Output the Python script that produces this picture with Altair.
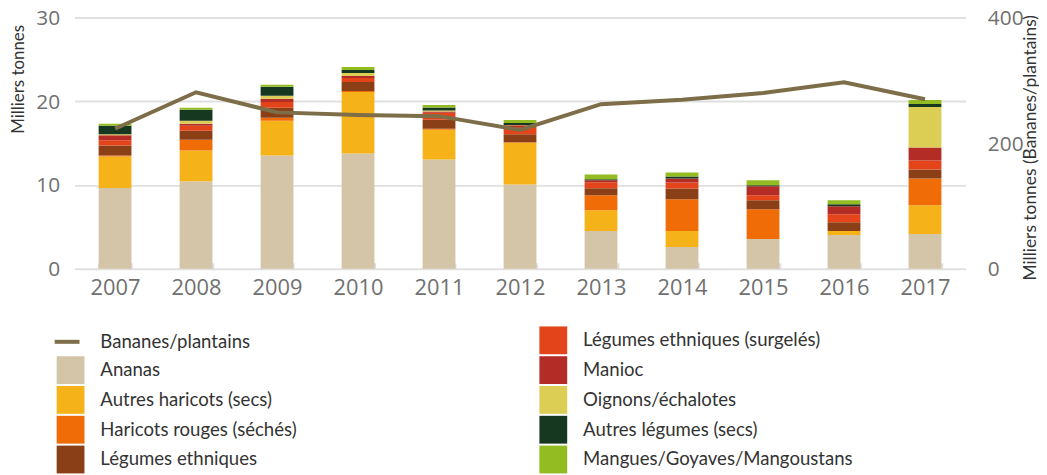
import altair as alt
import pandas as pd

years = ["2007", "2008", "2009", "2010", "2011", "2012", "2013", "2014", "2015", "2016", "2017"]

ananas = [9.64, 10.44, 13.52, 13.76, 13.04, 10.08, 4.51, 2.61, 3.56, 4.03, 4.15]
autres_haricots = [3.76, 3.68, 4.15, 7.35, 3.56, 4.98, 2.49, 1.90, 0.0, 0.47, 3.44]
haricots_rouges = [0.12, 1.30, 0.36, 0.12, 0.12, 0.05, 1.78, 3.79, 3.56, 0.0, 3.20]
legumes_ethniques = [1.19, 1.07, 1.19, 1.07, 1.07, 0.95, 0.83, 1.30, 1.07, 1.07, 1.07]
legumes_surgeles = [0.63, 0.59, 0.68, 0.47, 0.83, 0.87, 0.71, 0.71, 0.59, 0.95, 1.07]
manioc = [0.59, 0.24, 0.39, 0.24, 0.15, 0.20, 0.24, 0.47, 1.07, 0.95, 1.54]
oignons = [0.12, 0.36, 0.36, 0.36, 0.12, 0.05, 0.0, 0.0, 0.0, 0.0, 4.86]
autres_legumes = [1.03, 1.30, 1.07, 0.36, 0.36, 0.24, 0.12, 0.24, 0.12, 0.24, 0.36]
mangues = [0.24, 0.24, 0.24, 0.36, 0.32, 0.36, 0.59, 0.47, 0.59, 0.47, 0.47]

bananes = [223, 281, 249, 245, 243, 221, 262, 269, 280, 297, 270]

categories = [
    "Ananas",
    "Autres haricots (secs)",
    "Haricots rouges (séchés)",
    "Légumes ethniques",
    "Légumes ethniques (surgelés)",
    "Manioc",
    "Oignons/échalotes",
    "Autres légumes (secs)",
    "Mangues/Goyaves/Mangoustans",
]
series = [ananas, autres_haricots, haricots_rouges, legumes_ethniques,
          legumes_surgeles, manioc, oignons, autres_legumes, mangues]
colors = ["#d4c4a8", "#f6b319", "#ef6c07", "#8b3f17", "#e3441a",
          "#b32d26", "#dccd55", "#163820", "#93bb22"]
line_name = "Bananes/plantains"
line_color = "#7d6d48"

rows = []
for ci, (name, vals) in enumerate(zip(categories, series)):
    for yr, v in zip(years, vals):
        rows.append({"annee": yr, "cat": name, "val": v, "ordre": ci})
df = pd.DataFrame(rows)
line_df = pd.DataFrame({"annee": years, "serie": line_name, "val": bananes})

# legend fills column by column; a blank first slot sits under the line legend
legend_domain = [" "] + categories
legend_range = ["transparent"] + colors

x_enc = alt.X(
    "annee:N", title=None,
    scale=alt.Scale(paddingInner=0.595, paddingOuter=0.2975),
    axis=alt.Axis(labelAngle=0, labelFont="Open Sans", labelFontSize=22,
                  labelColor="#707070", domain=False, ticks=True,
                  tickBand="extent", tickSize=6, tickColor="#dddddd",
                  tickWidth=2, offset=-6, labelPadding=9),
)

bars = alt.Chart(df).mark_bar().encode(
    x=x_enc,
    y=alt.Y("val:Q", stack="zero", scale=alt.Scale(domain=[0, 30]),
            axis=alt.Axis(values=[0, 10, 20, 30], title="Milliers tonnes",
                          grid=True, gridColor="#e0e0e0", gridWidth=2,
                          domain=False, ticks=False,
                          labelFont="Open Sans", labelFontSize=21,
                          labelColor="#707070", labelPadding=15, labelOffset=1,
                          titleFont="Lato", titleFontSize=17,
                          titleColor="#333333", titleFontWeight="normal",
                          titleAngle=-90, titleAlign="right",
                          titleBaseline="middle", titleX=-56, titleY=7)),
    fill=alt.Fill("cat:N", scale=alt.Scale(domain=legend_domain, range=legend_range),
                  legend=alt.Legend(title=None, orient="none", legendX=-18, legendY=311,
                                    columns=2, columnPadding=244, rowPadding=2,
                                    symbolType="square", symbolSize=784,
                                    symbolStrokeWidth=0, labelOffset=16,
                                    labelFont="Lato", labelFontSize=18.7,
                                    labelColor="#333333", labelLimit=0,
                                    padding=0)),
    order=alt.Order("ordre:Q", sort="ascending"),
)

line = alt.Chart(line_df).mark_line(strokeWidth=4).encode(
    x=alt.X("annee:N"),
    y=alt.Y("val:Q", scale=alt.Scale(domain=[0, 400]),
            axis=alt.Axis(orient="right", values=[0, 200, 400],
                          title="Milliers tonnes (Bananes/plantains)",
                          grid=False, domain=False, ticks=False,
                          labelFont="Open Sans", labelFontSize=21,
                          labelColor="#707070", labelPadding=22, labelOffset=1,
                          titleFont="Lato", titleFontSize=17.5,
                          titleColor="#333333", titleFontWeight="normal",
                          titleAngle=-90, titleAlign="right",
                          titleBaseline="middle", titleX=65, titleY=-3)),
    stroke=alt.Stroke("serie:N", scale=alt.Scale(domain=[line_name], range=[line_color]),
                      legend=alt.Legend(title=None, orient="none", legendX=-22, legendY=312,
                                        symbolType="stroke", symbolSize=625,
                                        symbolStrokeWidth=4, labelOffset=19,
                                        labelFont="Lato", labelFontSize=18.7,
                                        labelColor="#333333", labelLimit=0,
                                        padding=0)),
)

chart = alt.layer(bars, line).resolve_scale(y="independent", fill="independent").properties(
    width=897, height=253, autosize="none",
    padding={"left": 67, "top": 8, "right": 74, "bottom": 205},
).configure_view(stroke=None)

chart.save("out.html", embed_options={"renderer": "svg", "actions": False})
